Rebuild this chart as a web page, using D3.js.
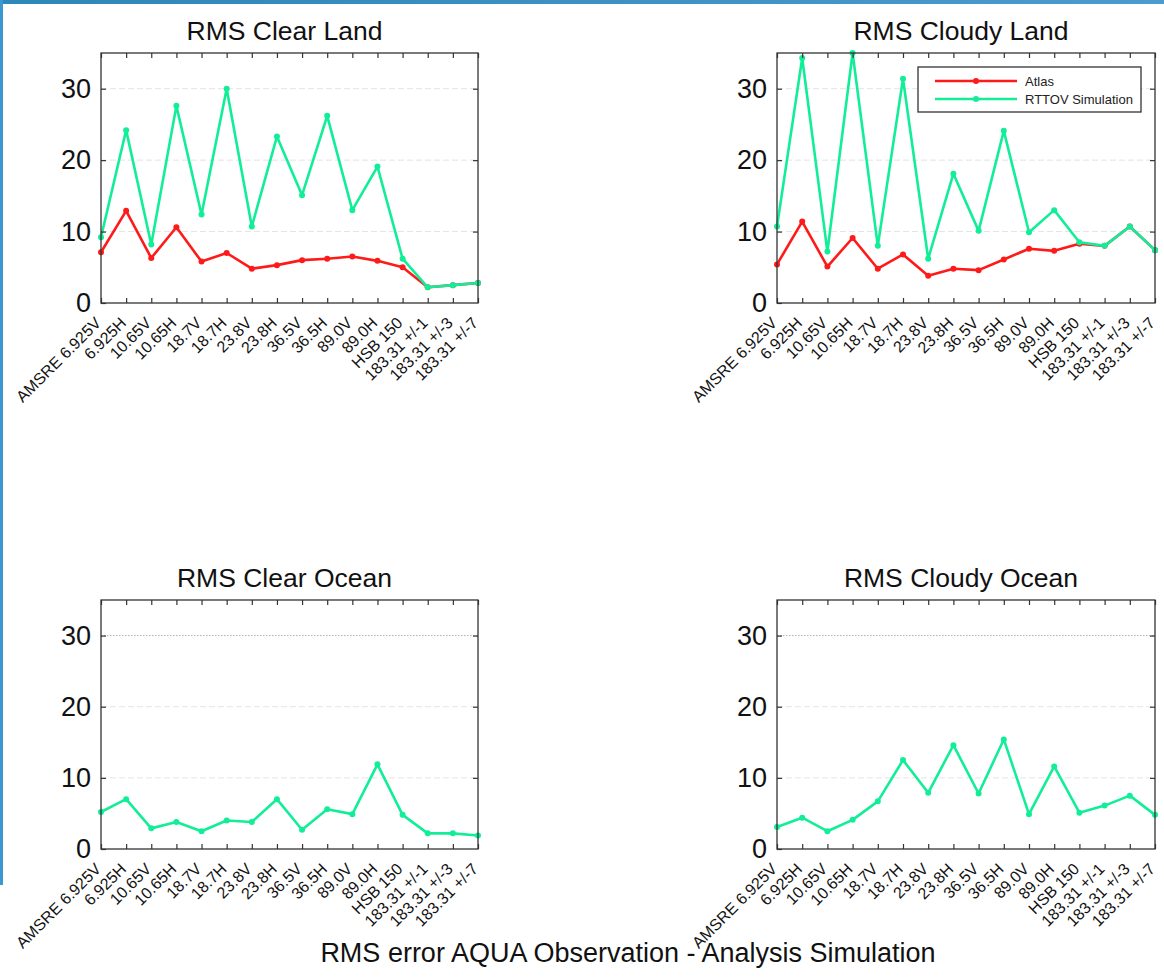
<!DOCTYPE html>
<html>
<head>
<meta charset="utf-8">
<script src="https://cdn.jsdelivr.net/npm/d3@7"></script>
<style>
  html, body { margin: 0; padding: 0; background: #fff; }
  svg { display: block; }
  text { font-family: "Liberation Sans", Arial, Helvetica, sans-serif; }
</style>
</head>
<body>
<svg id="chart" width="1164" height="977"></svg>
<script>
const channels = ["AMSRE 6.925V", "6.925H", "10.65V", "10.65H", "18.7V", "18.7H", "23.8V", "23.8H",
  "36.5V", "36.5H", "89.0V", "89.0H", "HSB 150", "183.31 +/-1", "183.31 +/-3", "183.31 +/-7"];
const yTicks = [0, 10, 20, 30];
const seriesNames = ["Atlas", "RTTOV Simulation"];

const clearLandAtlas = [7.1, 12.9, 6.3, 10.6, 5.8, 7.0, 4.8, 5.3, 6.0, 6.2, 6.5, 5.9, 5.0, 2.2, 2.5, 2.8];
const clearLandRttov = [9.2, 24.2, 8.2, 27.6, 12.4, 30.0, 10.7, 23.3, 15.1, 26.2, 13.0, 19.1, 6.2, 2.2, 2.5, 2.8];
const cloudyLandAtlas = [5.4, 11.4, 5.1, 9.1, 4.8, 6.8, 3.8, 4.8, 4.6, 6.1, 7.6, 7.3, 8.3, 8.0, 10.7, 7.4];
const cloudyLandRttov = [10.7, 34.3, 7.2, 35.0, 8.0, 31.4, 6.2, 18.1, 10.1, 24.1, 9.9, 13.0, 8.5, 8.0, 10.7, 7.4];
const clearOceanRttov = [5.2, 7.0, 2.9, 3.8, 2.5, 4.0, 3.8, 7.0, 2.7, 5.6, 4.9, 11.9, 4.8, 2.2, 2.2, 1.9];
const cloudyOceanRttov = [3.1, 4.4, 2.5, 4.1, 6.7, 12.5, 7.9, 14.6, 7.8, 15.4, 4.9, 11.6, 5.1, 6.1, 7.5, 4.8];

const titles = ["RMS Clear Land", "RMS Cloudy Land", "RMS Clear Ocean", "RMS Cloudy Ocean"];
const caption = "RMS error AQUA Observation - Analysis Simulation";

const RED = "#ff1a1a", GREEN = "#12ee98";

const panels = [
  { title: titles[0], x0: 101, x1: 478, top: 53, bottom: 303, atlas: clearLandAtlas, rttov: clearLandRttov, legend: false, ocean: false },
  { title: titles[1], x0: 777, x1: 1155, top: 53, bottom: 303, atlas: cloudyLandAtlas, rttov: cloudyLandRttov, legend: true, ocean: false },
  { title: titles[2], x0: 101, x1: 478, top: 600, bottom: 849, atlas: null, rttov: clearOceanRttov, legend: false, ocean: true },
  { title: titles[3], x0: 777, x1: 1155, top: 600, bottom: 849, atlas: null, rttov: cloudyOceanRttov, legend: false, ocean: true }
];

const svg = d3.select("#chart");

// slide decoration borders
const grad = svg.append("defs").append("linearGradient").attr("id", "topbar").attr("x1", "0").attr("x2", "1");
grad.append("stop").attr("offset", "0").attr("stop-color", "#2f86b8");
grad.append("stop").attr("offset", "1").attr("stop-color", "#4a9bd0");
svg.append("rect").attr("x", 0).attr("y", 0).attr("width", 1164).attr("height", 4).attr("fill", "url(#topbar)");
svg.append("rect").attr("x", 0).attr("y", 0).attr("width", 3).attr("height", 885).attr("fill", "#3d98cf");

panels.forEach(p => {
  const x = d3.scalePoint().domain(channels).range([p.x0, p.x1]);
  const y = d3.scaleLinear().domain([0, 35]).range([p.bottom, p.top]);
  const g = svg.append("g");

  // grid
  yTicks.filter(t => t > 0).forEach(t => {
    const dotted = p.ocean && t === 30;
    g.append("line")
      .attr("x1", p.x0).attr("x2", p.x1).attr("y1", y(t)).attr("y2", y(t))
      .attr("stroke", dotted ? "#9a9a9a" : "#e4e4e4")
      .attr("stroke-width", dotted ? 0.8 : 1)
      .attr("stroke-dasharray", dotted ? "1.5,1.5" : "6,3");
  });

  // lines
  const line = d3.line().x((d, i) => x(channels[i])).y(d => y(d));
  const drawSeries = (vals, color) => {
    g.append("path").datum(vals).attr("d", line)
      .attr("fill", "none").attr("stroke", color).attr("stroke-width", 2.6)
      .attr("stroke-linejoin", "round");
    g.selectAll(null).data(vals).enter().append("circle")
      .attr("cx", (d, i) => x(channels[i])).attr("cy", d => y(d)).attr("r", 3)
      .attr("fill", color);
  };
  if (p.atlas) drawSeries(p.atlas, RED);
  drawSeries(p.rttov, GREEN);

  // frame
  g.append("rect").attr("x", p.x0).attr("y", p.top).attr("width", p.x1 - p.x0).attr("height", p.bottom - p.top)
    .attr("fill", "none").attr("stroke", "#333").attr("stroke-width", 1.3);

  // bottom axis
  const xAxisB = d3.axisBottom(x).tickSizeInner(-5).tickSizeOuter(0).tickFormat("");
  const gxb = g.append("g").attr("transform", `translate(0,${p.bottom})`).call(xAxisB);
  gxb.select(".domain").remove();
  gxb.selectAll("line").attr("stroke", "#333").attr("stroke-width", 1.2);
  const xAxisT = d3.axisTop(x).tickSizeInner(-5).tickSizeOuter(0).tickFormat("");
  const gxt = g.append("g").attr("transform", `translate(0,${p.top})`).call(xAxisT);
  gxt.select(".domain").remove();
  gxt.selectAll("line").attr("stroke", "#333").attr("stroke-width", 1.2);

  // y axis
  const yAxisL = d3.axisLeft(y).tickValues(yTicks).tickSizeInner(-5).tickSizeOuter(0).tickPadding(10);
  const gyl = g.append("g").attr("transform", `translate(${p.x0},0)`).call(yAxisL);
  gyl.select(".domain").remove();
  gyl.selectAll("line").attr("stroke", "#333").attr("stroke-width", 1.2);
  gyl.selectAll("text").attr("font-size", 27).attr("fill", "#111")
    .attr("font-family", "'Liberation Sans', Arial, sans-serif");
  const yAxisR = d3.axisRight(y).tickValues(yTicks.filter(t => t > 0)).tickSizeInner(-5).tickSizeOuter(0).tickFormat("");
  const gyr = g.append("g").attr("transform", `translate(${p.x1},0)`).call(yAxisR);
  gyr.select(".domain").remove();
  gyr.selectAll("line").attr("stroke", "#333").attr("stroke-width", 1.2);

  // rotated category labels
  g.selectAll(null).data(channels).enter().append("text")
    .attr("transform", d => `translate(${x(d) + 1},${p.bottom + 21}) rotate(-45)`)
    .attr("text-anchor", "end")
    .attr("font-size", 16)
    .attr("fill", "#111")
    .text(d => d);

  // title
  g.append("text").attr("x", (p.x0 + p.x1) / 2 - 5).attr("y", p.top - 13)
    .attr("text-anchor", "middle").attr("font-size", 26.5).attr("fill", "#111").text(p.title);

  // legend
  if (p.legend) {
    const lg = g.append("g");
    lg.append("rect").attr("x", 918).attr("y", 67).attr("width", 223).attr("height", 45)
      .attr("fill", "#fff").attr("stroke", "#333").attr("stroke-width", 1.3);
    [RED, GREEN].forEach((c, i) => {
      const ly = 81 + i * 18;
      lg.append("line").attr("x1", 935).attr("x2", 1017).attr("y1", ly).attr("y2", ly)
        .attr("stroke", c).attr("stroke-width", 2.6);
      lg.append("circle").attr("cx", 976).attr("cy", ly).attr("r", 3).attr("fill", c);
      lg.append("text").attr("x", 1025).attr("y", ly + 4.5).attr("font-size", 13).attr("fill", "#222")
        .text(seriesNames[i]);
    });
  }
});

svg.append("text").attr("x", 628).attr("y", 962).attr("text-anchor", "middle")
  .attr("font-size", 27).attr("fill", "#111").text(caption);
</script>
</body>
</html>
